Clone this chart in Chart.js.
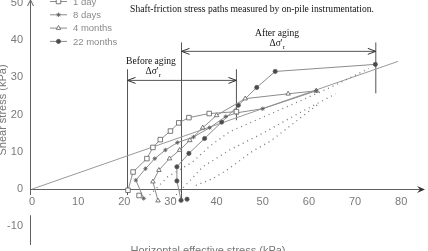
<!DOCTYPE html>
<html>
<head>
<meta charset="utf-8">
<script src="https://cdn.jsdelivr.net/npm/chart.js@4.4.0/dist/chart.umd.min.js"></script>
<style>
  html, body { margin: 0; padding: 0; background: #fff; overflow: hidden; }
  #wrap { width: 428px; height: 251px; }
</style>
</head>
<body>
<div id="wrap"><canvas id="chart" width="428" height="251"></canvas></div>
<script>
// tick labels
const xTicks = [0, 10, 20, 30, 40, 50, 60, 70, 80];
const yTicks = [-10, 0, 10, 20, 30, 40, 50];

// stress paths (kPa)
const oneDayX = [20.8, 21.9, 24.9, 26.2, 27.8, 30.0, 31.8, 34.0, 38.4, 44.3];
const oneDayY = [-0.3, 4.6, 8.2, 11.2, 13.3, 15.6, 17.8, 19.2, 20.3, 20.8];
const oneDayExtraX = [23.2];
const oneDayExtraY = [-1.7];

const eightDaysX = [24.2, 22.5, 24.6, 26.6, 28.9, 31.5, 35.0, 38.5, 42.0, 44.4, 50.0, 61.6];
const eightDaysY = [-2.5, 2.4, 5.5, 8.2, 10.5, 12.5, 14.0, 16.5, 19.5, 20.5, 21.6, 26.4];

const fourMonthsX = [27.3, 26.2, 27.5, 29.8, 32.0, 34.2, 37.0, 40.0, 46.2, 55.5, 61.6];
const fourMonthsY = [-3.1, 2.0, 5.1, 8.2, 10.5, 13.1, 16.5, 19.8, 24.3, 25.6, 26.4];

const twentyTwoMonthsX = [32.3, 31.4, 31.4, 34.0, 37.4, 41.1, 44.7, 48.7, 52.7, 74.4];
const twentyTwoMonthsY = [-3.0, 2.2, 6.0, 9.6, 13.6, 18.0, 22.5, 27.3, 31.6, 33.5];
const twentyTwoMonthsExtraX = [33.6];
const twentyTwoMonthsExtraY = [-2.7];

// dotted paths
const dottedX = [
  [25.5, 29.4, 34.8, 38.5, 42.8, 55.0, 65.0, 73.0],
  [30.5, 34.0, 37.0, 42.8, 50.0, 58.0, 65.8],
  [35.5, 39.3, 42.2, 47.6, 51.9, 57.0, 62.2]
];
const dottedY = [
  [-1.6, 3.3, 7.3, 11.5, 15.4, 22.0, 27.5, 32.4],
  [-2.5, 2.0, 6.0, 10.5, 15.0, 20.5, 25.6],
  [1.0, 2.9, 5.1, 10.0, 13.1, 18.0, 23.0]
];

// failure envelope
const envelopeX = [0, 79.3];
const envelopeY = [0, 34.3];

// delta sigma'r annotations
const beforeAgingX = [20.7, 44.3];
const beforeAgingLow = [-1.6, 18.5];
const beforeAgingTop = 32.2;
const beforeArrowY = 29.2;
const afterAgingX = [32.4, 74.5];
const afterAgingLow = [-2.9, 25.7];
const afterAgingTop = 39.4;
const afterArrowY = 37.0;

const legendLabels = ['1 day', '8 days', '4 months', '22 months'];

const LINE = '#8c8c8c';
const MARK = '#5a5a5a';
const AXIS = '#606060';
const SANS = '"Liberation Sans", Arial, sans-serif';
const SERIF = '"Liberation Serif", "Times New Roman", serif';

function pts(xs, ys) {
  return xs.map((v, i) => ({ x: v, y: ys[i] }));
}

const markers = [
  { pointStyle: 'rect', pointRadius: 3.2, pointBackgroundColor: '#fff' },
  { pointStyle: 'star', pointRadius: 2.2, pointBackgroundColor: MARK },
  { pointStyle: 'triangle', pointRadius: 2.6, pointBackgroundColor: '#fff' },
  { pointStyle: 'circle', pointRadius: 2.1, pointBackgroundColor: '#4a4a4a' }
];

function series(xs, ys, m, showLine) {
  return Object.assign({
    data: pts(xs, ys),
    showLine: showLine,
    borderColor: LINE,
    borderWidth: 1,
    pointBorderColor: MARK,
    pointBorderWidth: 0.8
  }, m);
}

function plainLine(xs, ys, color, dash, width) {
  return {
    data: pts(xs, ys),
    showLine: true,
    borderColor: color,
    borderWidth: width,
    borderDash: dash,
    pointRadius: 0
  };
}

const datasets = [
  series(oneDayX, oneDayY, markers[0], true),
  series(oneDayExtraX, oneDayExtraY, markers[0], false),
  series(eightDaysX, eightDaysY, markers[1], true),
  series(fourMonthsX, fourMonthsY, markers[2], true),
  series(twentyTwoMonthsX, twentyTwoMonthsY, markers[3], true),
  series(twentyTwoMonthsExtraX, twentyTwoMonthsExtraY, markers[3], false)
];
dottedX.forEach((xs, i) => datasets.push(plainLine(xs, dottedY[i], '#777', [1, 4], 1.3)));
datasets.push(plainLine(envelopeX, envelopeY, '#999', [], 1));
beforeAgingX.forEach((v, i) => datasets.push(plainLine([v, v], [beforeAgingLow[i], beforeAgingTop], '#555', [], 1)));
afterAgingX.forEach((v, i) => datasets.push(plainLine([v, v], [afterAgingLow[i], afterAgingTop], '#555', [], 1)));
datasets.push(plainLine(beforeAgingX, [beforeArrowY, beforeArrowY], '#555', [], 1));
datasets.push(plainLine(afterAgingX, [afterArrowY, afterArrowY], '#555', [], 1));

function openHead(ctx, tipX, tipY, dir) {
  ctx.beginPath();
  ctx.moveTo(tipX - dir * 8, tipY - 3);
  ctx.lineTo(tipX, tipY);
  ctx.lineTo(tipX - dir * 8, tipY + 3);
  ctx.stroke();
}

const decor = {
  id: 'decor',
  beforeDatasetsDraw(chart) {
    const { ctx, scales: { x, y } } = chart;
    const ax = Math.round(x.left) + 0.5;
    const ay = Math.round(y.getPixelForValue(0)) + 0.5;
    const endX = chart.width - 3;
    ctx.save();
    ctx.strokeStyle = AXIS;
    ctx.lineWidth = 1;
    ctx.beginPath();
    ctx.moveTo(ax, ay);
    ctx.lineTo(endX - 2, ay);
    ctx.moveTo(ax, 0);
    ctx.lineTo(ax, y.getPixelForValue(-1.6));
    ctx.moveTo(ax, y.getPixelForValue(-7));
    ctx.lineTo(ax, y.bottom);
    ctx.stroke();
    // axis arrows
    ctx.fillStyle = '#333';
    ctx.beginPath();
    ctx.moveTo(endX, ay);
    ctx.lineTo(endX - 8, ay - 3.5);
    ctx.lineTo(endX - 5, ay);
    ctx.lineTo(endX - 8, ay + 3.5);
    ctx.closePath();
    ctx.fill();
    ctx.beginPath();
    ctx.moveTo(ax - 3, 6);
    ctx.lineTo(ax, 0);
    ctx.lineTo(ax + 3, 6);
    ctx.stroke();
    ctx.restore();
  },
  afterDraw(chart) {
    const { ctx, scales: { x, y } } = chart;
    ctx.save();
    ctx.strokeStyle = '#333';
    ctx.lineWidth = 1;
    const by = y.getPixelForValue(beforeArrowY);
    openHead(ctx, x.getPixelForValue(beforeAgingX[0]), by, -1);
    openHead(ctx, x.getPixelForValue(beforeAgingX[1]), by, 1);
    const fy = y.getPixelForValue(afterArrowY);
    openHead(ctx, x.getPixelForValue(afterAgingX[0]), fy, -1);
    openHead(ctx, x.getPixelForValue(afterAgingX[1]), fy, 1);

    // serif texts
    ctx.fillStyle = '#111';
    ctx.textAlign = 'center';
    ctx.textBaseline = 'middle';
    ctx.font = '9.6px ' + SERIF;
    ctx.fillText('Shaft-friction stress paths measured by on-pile instrumentation.', 252, 9);
    ctx.fillText('Before aging', 151, 61);
    ctx.fillText('After aging', 277, 33);
    ctx.fillText('\u0394\u03c3\'', 152, 71);
    ctx.fillText('\u0394\u03c3\'', 276, 43);
    ctx.font = '7px ' + SERIF;
    ctx.fillText('r', 160, 75);
    ctx.fillText('r', 284, 47);

    // legend
    const drawPoint = Chart.helpers && Chart.helpers.drawPoint;
    legendLabels.forEach((label, i) => {
      const ly = 1.5 + 13.3 * i;
      ctx.strokeStyle = LINE;
      ctx.lineWidth = 1;
      ctx.beginPath();
      ctx.moveTo(50, ly);
      ctx.lineTo(67, ly);
      ctx.stroke();
      if (drawPoint) {
        const m = markers[i];
        ctx.fillStyle = m.pointBackgroundColor;
        ctx.strokeStyle = MARK;
        ctx.lineWidth = 0.8;
        drawPoint(ctx, { pointStyle: m.pointStyle, radius: m.pointRadius, rotation: 0, borderWidth: 0.8 }, 58.5, ly);
      }
      ctx.fillStyle = '#8a8a8a';
      ctx.textAlign = 'left';
      ctx.font = '9.5px ' + SANS;
      ctx.fillText(label, 73, ly + 0.5);
    });

    // axis titles
    ctx.fillStyle = '#777';
    ctx.font = '11px ' + SANS;
    ctx.textAlign = 'center';
    ctx.textBaseline = 'top';
    ctx.fillText('Horizontal effective stress (kPa)', 208, 245);
    ctx.translate(3, 110);
    ctx.rotate(-Math.PI / 2);
    ctx.textBaseline = 'middle';
    ctx.fillText('Shear stress (kPa)', 0, 0);
    ctx.restore();
  }
};

new Chart(document.getElementById('chart').getContext('2d'), {
  type: 'scatter',
  data: { datasets: datasets },
  options: {
    responsive: false,
    animation: false,
    layout: { padding: { left: 0, right: 2, top: 0, bottom: 6 } },
    plugins: { legend: { display: false }, tooltip: { enabled: false } },
    scales: {
      x: {
        type: 'linear',
        min: -0.433,
        max: 84.77,
        position: { y: 0 },
        grid: { display: false, drawTicks: false },
        border: { display: false },
        afterBuildTicks: s => { s.ticks = xTicks.map(v => ({ value: v })); },
        afterFit: s => { s.paddingLeft = 0; s.paddingRight = 0; },
        ticks: { color: '#7a7a7a', font: { family: SANS, size: 11 }, padding: 6, autoSkip: false, maxRotation: 0 }
      },
      y: {
        type: 'linear',
        min: -15.0,
        max: 49.5,
        grid: { display: false, drawTicks: false },
        border: { display: false },
        afterBuildTicks: s => { s.ticks = yTicks.map(v => ({ value: v })); },
        afterFit: s => { s.width = 30; s.paddingTop = 0; s.paddingBottom = 0; },
        ticks: { color: '#7a7a7a', font: { family: SANS, size: 11 }, padding: 7 }
      }
    }
  },
  plugins: [decor]
});
</script>
</body>
</html>
